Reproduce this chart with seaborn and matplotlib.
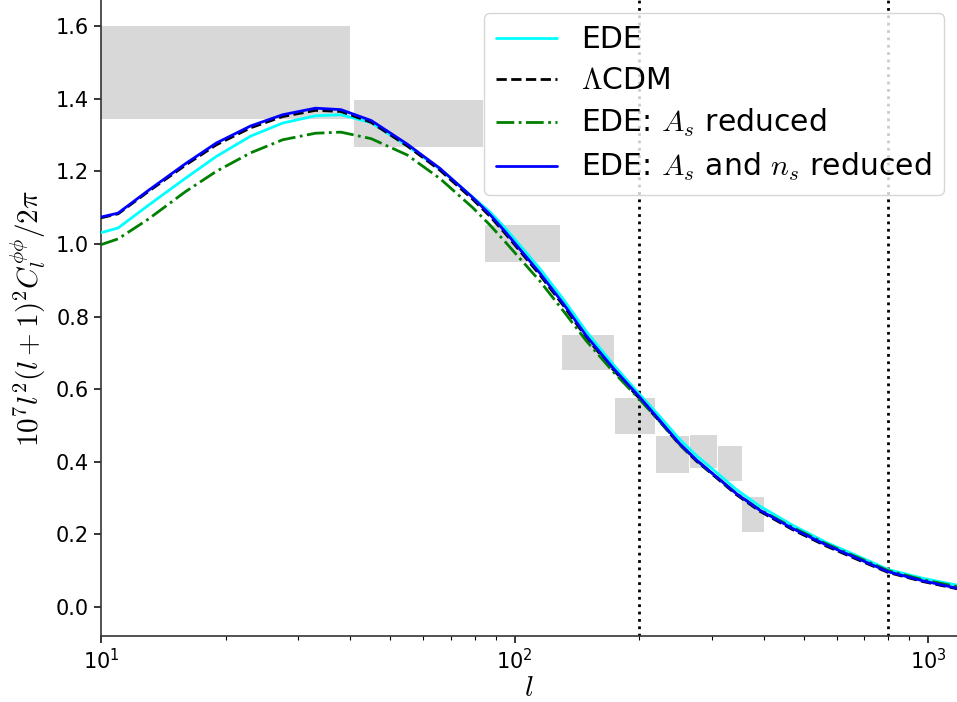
import matplotlib
matplotlib.use("Agg")
import matplotlib.pyplot as plt
from matplotlib.patches import Rectangle
import seaborn as sns

# multipoles
ell = [10, 11, 13, 16, 19, 23, 27.5, 33, 38, 45, 55, 66, 79, 87, 95, 115, 131, 149,
       173, 200, 225, 250, 275, 300, 343, 391, 470, 566, 673, 800, 970, 1175]

ede = [1.031, 1.044, 1.106, 1.181, 1.241, 1.297, 1.333, 1.353, 1.356, 1.334, 1.270,
       1.206, 1.130, 1.089, 1.043, 0.932, 0.848, 0.759, 0.668, 0.587, 0.523, 0.463,
       0.417, 0.381, 0.324, 0.278, 0.225, 0.178, 0.141, 0.103, 0.079, 0.060]

lcdm = [1.072, 1.083, 1.144, 1.217, 1.273, 1.320, 1.351, 1.368, 1.365, 1.335, 1.270,
        1.203, 1.124, 1.077, 1.028, 0.915, 0.831, 0.742, 0.654, 0.575, 0.509, 0.448,
        0.402, 0.366, 0.310, 0.264, 0.213, 0.168, 0.131, 0.095, 0.070, 0.050]

ede_as = [0.998, 1.014, 1.068, 1.144, 1.200, 1.251, 1.287, 1.305, 1.308, 1.290, 1.245,
          1.180, 1.101, 1.053, 1.005, 0.898, 0.816, 0.733, 0.648, 0.573, 0.509, 0.449,
          0.404, 0.368, 0.313, 0.268, 0.219, 0.174, 0.137, 0.100, 0.075, 0.056]

ede_as_ns = [1.074, 1.085, 1.147, 1.221, 1.278, 1.325, 1.356, 1.374, 1.370, 1.340, 1.275,
             1.208, 1.129, 1.082, 1.033, 0.920, 0.836, 0.747, 0.658, 0.5795, 0.512, 0.451,
             0.405, 0.369, 0.313, 0.267, 0.216, 0.171, 0.134, 0.097, 0.072, 0.0515]

# Planck lensing bandpowers (bin edges and error band)
bin_lo = [8, 41, 85, 130, 175, 220, 265, 310, 355]
bin_hi = [40, 84, 129, 174, 219, 264, 309, 354, 400]
band_lo = [1.343, 1.266, 0.950, 0.653, 0.476, 0.370, 0.383, 0.346, 0.207]
band_hi = [1.600, 1.397, 1.053, 0.748, 0.576, 0.471, 0.474, 0.444, 0.304]

vlines = [200, 800]

labels = ["EDE", r"$\Lambda$CDM", r"EDE: $A_s$ reduced", r"EDE: $A_s$ and $n_s$ reduced"]

sns.set_style("ticks")
plt.rcParams["mathtext.fontset"] = "cm"
plt.rcParams["font.family"] = ["DejaVu Sans"]
plt.rcParams["text.color"] = "black"
plt.rcParams["axes.labelcolor"] = "black"
plt.rcParams["xtick.color"] = "black"
plt.rcParams["ytick.color"] = "black"

fig = plt.figure(figsize=(9.57, 7.02), dpi=100)
ax = fig.add_axes([101 / 957, 66 / 702, 1 - 101 / 957, 1 - 66 / 702])

for lo, hi, blo, bhi in zip(bin_lo, bin_hi, band_lo, band_hi):
    ax.add_patch(Rectangle((lo, blo), hi - lo, bhi - blo, facecolor="#d8d8d8",
                           edgecolor="none", zorder=1))

for v in vlines:
    ax.axvline(v, color="black", linestyle=":", linewidth=2, zorder=2)

sns.lineplot(x=ell, y=ede, color="cyan", linewidth=2, label=labels[0], ax=ax, zorder=3)
sns.lineplot(x=ell, y=lcdm, color="black", linestyle="--", linewidth=2, label=labels[1], ax=ax, zorder=3)
sns.lineplot(x=ell, y=ede_as, color="green", linestyle="-.", linewidth=2, label=labels[2], ax=ax, zorder=3)
sns.lineplot(x=ell, y=ede_as_ns, color="blue", linewidth=2, label=labels[3], ax=ax, zorder=3)

ax.set_xscale("log")
ax.set_xlim(10, 1173)
ax.set_ylim(-0.08, 1.672)
ax.set_yticks([0.0, 0.2, 0.4, 0.6, 0.8, 1.0, 1.2, 1.4, 1.6])
ax.tick_params(axis="both", which="major", labelsize=15, length=5, width=1.1, direction="out")
ax.tick_params(axis="x", which="minor", length=3, width=0.8)
for s in ["top", "right"]:
    ax.spines[s].set_visible(False)
for s in ["left", "bottom"]:
    ax.spines[s].set_linewidth(1.2)
    ax.spines[s].set_color("#333333")

ax.set_xlabel(r"$l$", fontsize=21, labelpad=1)
ax.set_ylabel(r"$10^7l^2(l+1)^2C_l^{\phi\phi}/2\pi$", fontsize=21, labelpad=6)

leg = ax.legend(loc="upper right", fontsize=21.5, frameon=True, fancybox=True,
                handlelength=2.07, labelspacing=0.4, borderaxespad=0.45)
leg.get_frame().set_edgecolor("#cccccc")

fig.savefig("out.png", dpi=100)
